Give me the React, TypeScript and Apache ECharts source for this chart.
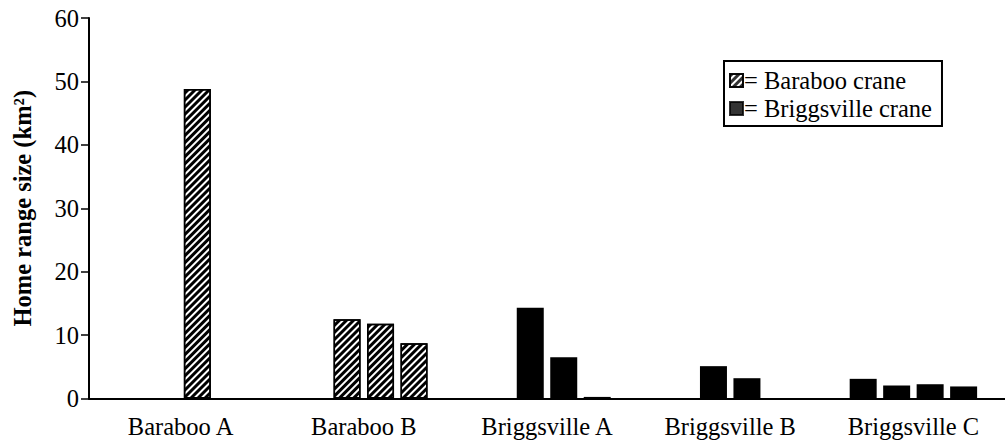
import React, { useEffect, useRef } from "react";
import * as echarts from "echarts";

const categories = ["Baraboo A", "Baraboo B", "Briggsville A", "Briggsville B", "Briggsville C"];
// Bars sit in four slots per site (cranes tracked at each site); null = no bar in that slot
const slot1 = [null, null, null, null, 3.1];
const slot2 = [null, 12.5, 14.3, 5.1, 2.05];
const slot3 = [48.8, 11.8, 6.5, 3.2, 2.25];
const slot4 = [null, 8.7, 0.25, null, 1.9];
const baraboo = [true, true, false, false, false];
const yTicks = [0, 10, 20, 30, 40, 50, 60];
const legendLabels = ["= Baraboo crane", "= Briggsville crane"];

const FONT = "Liberation Serif";
const FS = 24.5;

const hatch = {
  symbol: "rect",
  symbolSize: 1,
  color: "#000",
  backgroundColor: "#fff",
  dashArrayX: [1, 0],
  dashArrayY: [2.4, 2],
  rotation: -Math.PI / 4,
};

function buildData(arr: (number | null)[]) {
  return arr.map((v, i) => {
    if (v === null) return null;
    if (baraboo[i]) {
      return {
        value: v,
        itemStyle: { color: "#fff", borderColor: "#000", borderWidth: 1.5, decal: hatch },
      };
    }
    return { value: v, itemStyle: { color: "#000", borderColor: "#000", borderWidth: 0 } };
  });
}

export default function App() {
  const ref = useRef<HTMLDivElement>(null);
  useEffect(() => {
    document.body.style.margin = "0";
    const chart = echarts.init(ref.current!, null, { renderer: "svg" });
    const slots = [slot1, slot2, slot3, slot4];
    chart.setOption({
      animation: false,
      backgroundColor: "#fff",
      textStyle: { fontFamily: FONT },
      grid: { left: 89, top: 18, width: 925, bottom: 44.5, containLabel: false },
      legend: {
        data: legendLabels,
        orient: "vertical",
        left: 724,
        top: 61,
        width: 215,
        padding: [7, 10, 5, 5],
        itemWidth: 13,
        itemHeight: 13,
        itemGap: 3,
        icon: "rect",
        borderColor: "#000",
        borderWidth: 2,
        selectedMode: false,
        textStyle: { color: "#000", fontSize: FS, fontFamily: FONT, padding: [0, 0, 0, -4] },
      },
      xAxis: {
        type: "category",
        data: categories,
        axisLine: { lineStyle: { color: "#000", width: 2 } },
        axisTick: { show: false },
        axisLabel: { color: "#000", fontSize: FS, fontFamily: FONT, margin: 15 },
      },
      yAxis: {
        type: "value",
        min: yTicks[0],
        max: yTicks[yTicks.length - 1],
        interval: 10,
        name: "Home range size (km²)",
        nameLocation: "middle",
        nameGap: 54,
        nameTextStyle: { color: "#000", fontSize: FS, fontWeight: "bold", fontFamily: FONT },
        axisLine: { show: true, lineStyle: { color: "#000", width: 2 } },
        axisTick: { show: true, length: 8, lineStyle: { color: "#000", width: 1.5 } },
        splitLine: { show: false },
        axisLabel: { color: "#000", fontSize: FS, fontFamily: FONT, margin: 10 },
      },
      series: [
        ...slots.map((s, k) => ({
          type: "bar",
          name: "slot" + (k + 1),
          data: buildData(s),
          barWidth: 27,
          barGap: "24%",
        })),
        {
          type: "scatter",
          name: legendLabels[0],
          data: [],
          itemStyle: { color: "#fff", borderColor: "#000", borderWidth: 1.5, decal: hatch },
        },
        {
          type: "scatter",
          name: legendLabels[1],
          data: [],
          itemStyle: { color: "#000", borderColor: "#000", borderWidth: 1 },
        },
      ],
    });
    return () => chart.dispose();
  }, []);
  return <div ref={ref} style={{ width: 1005, height: 443 }} />;
}
